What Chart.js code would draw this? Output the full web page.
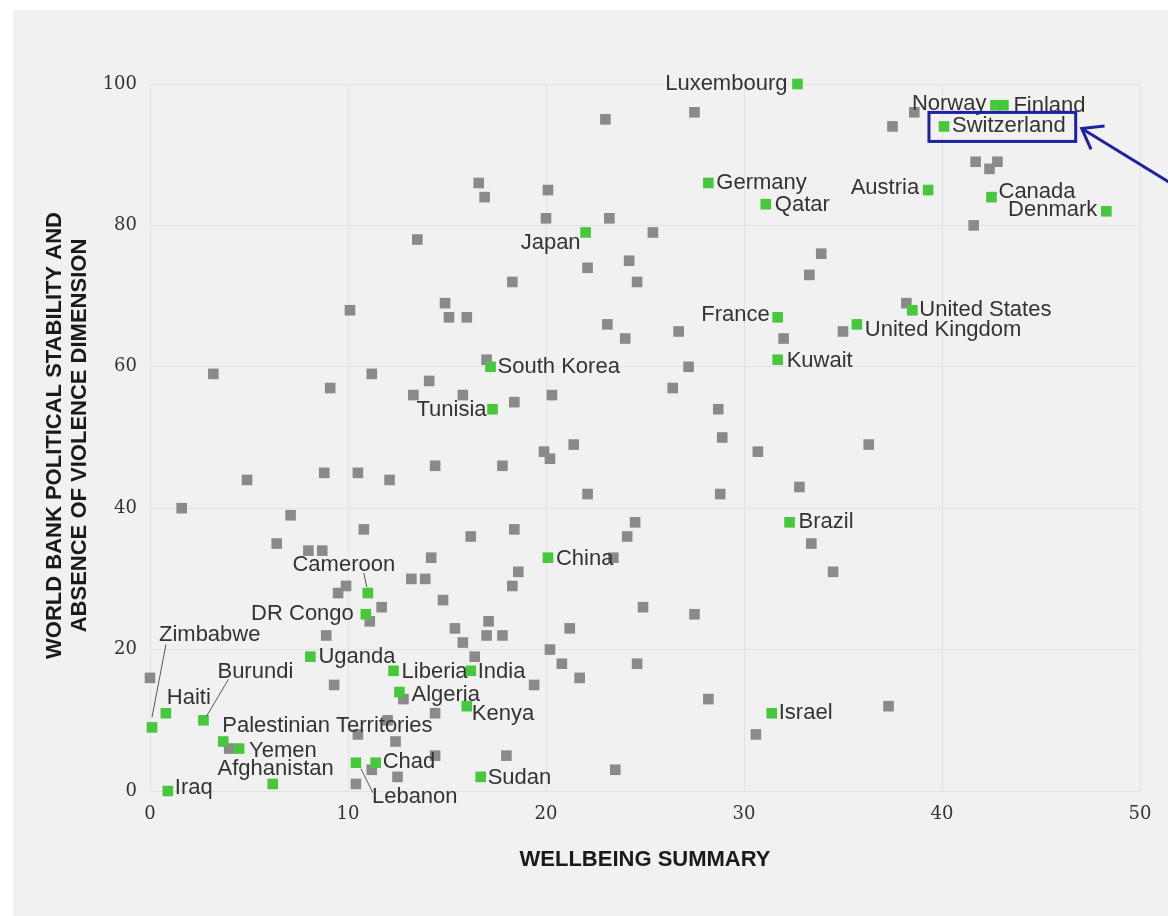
<!DOCTYPE html>
<html>
<head>
<meta charset="utf-8">
<title>Wellbeing vs political stability</title>
<script src="https://cdn.jsdelivr.net/npm/chart.js@4.4.1/dist/chart.umd.min.js"></script>
<style>
  html, body { margin: 0; padding: 0; background: #ffffff; }
  #panel { position: absolute; left: 13px; top: 10px; width: 1155px; height: 906px; background: #f1f1f1; }
  #chartBox { position: absolute; left: 0; top: 0; width: 1168px; height: 916px; }
</style>
</head>
<body>
<div id="panel"></div>
<div id="chartBox"><canvas id="myChart" width="1168" height="916"></canvas></div>
<script>
'use strict';

// axis ticks
let xTickValues = [0, 10, 20, 30, 40, 50];
let yTickValues = [0, 20, 40, 60, 80, 100];

// highlighted countries (green)
let namedCountries = ['Luxembourg', 'Norway', 'Finland', 'Switzerland', 'Germany', 'Qatar', 'Austria', 'Canada', 'Denmark',
  'Japan', 'France', 'United States', 'United Kingdom', 'Kuwait', 'South Korea', 'Tunisia', 'Brazil', 'China',
  'Cameroon', 'DR Congo', 'Zimbabwe', 'Uganda', 'Burundi', 'Haiti', 'Liberia', 'India', 'Algeria', 'Kenya',
  'Israel', 'Palestinian Territories', 'Yemen', 'Afghanistan', 'Chad', 'Lebanon', 'Sudan', 'Iraq'];
let namedWellbeing = [32.7, 42.7, 43.1, 40.1, 28.2, 31.1, 39.3, 42.5, 48.3,
  22.0, 31.7, 38.5, 35.7, 31.7, 17.2, 17.3, 32.3, 20.1,
  11.0, 10.9, 0.1, 8.1, 2.7, 0.8, 12.3, 16.2, 12.6, 16.0,
  31.4, 3.7, 4.5, 6.2, 11.4, 10.4, 16.7, 0.9];
let namedStability = [100, 97, 97, 94, 86, 83, 85, 84, 82,
  79, 67, 68, 66, 61, 60, 54, 38, 33,
  28, 25, 9, 19, 10, 11, 17, 17, 14, 12,
  11, 7, 6, 1, 4, 4, 2, 0];

// all other countries (grey)
let otherWellbeing = [27.5, 23.0, 38.6, 37.5, 41.7, 42.8, 42.4, 41.6, 33.9, 33.3,
  16.6, 16.9, 20.1, 20.0, 23.2, 25.4, 13.5, 24.2, 22.1, 24.6,
  18.3, 14.9, 15.1, 16.0, 10.1, 23.1, 24.0, 26.7, 27.2, 26.4,
  28.7, 28.9, 30.7, 28.8, 17.0, 14.1, 13.3, 15.8, 18.4, 20.3,
  21.4, 19.9, 20.2, 14.4, 17.8, 12.1, 22.1, 24.5, 24.1, 23.4,
  18.4, 16.2, 14.2, 13.2, 13.9, 18.6, 18.3, 14.8, 38.2, 35.0,
  32.0, 36.3, 32.8, 33.4, 34.5, 3.2, 11.2, 9.1, 4.9, 8.8,
  10.5, 1.6, 7.1, 10.8, 6.4, 8.0, 8.7, 9.9, 9.5, 11.1,
  11.7, 8.9, 0.0, 9.3, 4.0, 12.0, 10.5, 12.4, 11.2, 10.4,
  12.5, 15.4, 17.1, 17.0, 17.8, 15.8, 16.4, 21.2, 20.2, 20.8,
  21.7, 19.4, 24.9, 27.5, 24.6, 28.2, 30.6, 23.5, 18.0, 14.4,
  14.4, 12.8, 37.3];
let otherStability = [96, 95, 96, 94, 89, 89, 88, 80, 76, 73,
  86, 84, 85, 81, 81, 79, 78, 75, 74, 72,
  72, 69, 67, 67, 68, 66, 64, 65, 60, 57,
  54, 50, 48, 42, 61, 58, 56, 56, 55, 56,
  49, 48, 47, 46, 46, 44, 42, 38, 36, 33,
  37, 36, 33, 30, 30, 31, 29, 27, 69, 65,
  64, 49, 43, 35, 31, 59, 59, 57, 44, 45,
  45, 40, 39, 37, 35, 34, 34, 29, 28, 24,
  26, 22, 16, 15, 6, 10, 8, 7, 3, 1,
  2, 23, 24, 22, 22, 21, 19, 23, 20, 18,
  16, 15, 26, 25, 18, 13, 8, 3, 5, 5,
  11, 13, 12];

// where each name sits next to its square (pixels), plus leader lines
let labelPlacement = {
  'Luxembourg': { dx: -10, dy: 0, align: 'right' },
  'Norway': { dx: -9, dy: -1, align: 'right' },
  'Finland': { dx: 10, dy: 1, align: 'left' },
  'Switzerland': { dx: 8, dy: 0, align: 'left' },
  'Germany': { dx: 8, dy: 0, align: 'left' },
  'Qatar': { dx: 9, dy: 1, align: 'left' },
  'Austria': { dx: -9, dy: -2, align: 'right' },
  'Canada': { dx: 7, dy: -5, align: 'left' },
  'Denmark': { dx: -9, dy: -1, align: 'right' },
  'Japan': { dx: -5, dy: 10, align: 'right' },
  'France': { dx: -8, dy: -2, align: 'right' },
  'United States': { dx: 7, dy: 0, align: 'left' },
  'United Kingdom': { dx: 8, dy: 6, align: 'left' },
  'Kuwait': { dx: 9, dy: 1, align: 'left' },
  'South Korea': { dx: 7, dy: 0, align: 'left' },
  'Tunisia': { dx: -6, dy: 1, align: 'right' },
  'Brazil': { dx: 9, dy: 0, align: 'left' },
  'China': { dx: 8, dy: 1, align: 'left' },
  'Cameroon': { dx: -24, dy: -28, align: 'center', leader: [-4, -20, -1, -6] },
  'DR Congo': { dx: -12, dy: 0, align: 'right' },
  'Zimbabwe': { dx: 7, dy: -92, align: 'left', leader: [14, -83, 0, -10] },
  'Uganda': { dx: 8, dy: 0, align: 'left' },
  'Burundi': { dx: 14, dy: -48, align: 'left', leader: [25, -41, 3, -4] },
  'Haiti': { dx: 1, dy: -15, align: 'left' },
  'Liberia': { dx: 8, dy: 1, align: 'left' },
  'India': { dx: 7, dy: 1, align: 'left' },
  'Algeria': { dx: 12, dy: 3, align: 'left' },
  'Kenya': { dx: 5, dy: 8, align: 'left' },
  'Israel': { dx: 7, dy: 0, align: 'left' },
  'Palestinian Territories': { dx: -1, dy: -16, align: 'left' },
  'Yemen': { dx: 10, dy: 2, align: 'left' },
  'Afghanistan': { dx: 61, dy: -15, align: 'right' },
  'Chad': { dx: 7, dy: -1, align: 'left' },
  'Lebanon': { dx: 16, dy: 34, align: 'left', leader: [5, 6, 17, 30] },
  'Sudan': { dx: 7, dy: 1, align: 'left' },
  'Iraq': { dx: 7, dy: -3, align: 'left' }
};

let boxedCountry = 'Switzerland';

let labelFont = '22px "Liberation Sans", Arial, sans-serif';
let titleFont = 'bold 22px "Liberation Sans", Arial, sans-serif';
let navy = '#1e22a0';

function toPoints(xs, ys) {
  let output = [];
  for (let i = 0; i < xs.length; i++) {
    output.push({ x: xs[i], y: ys[i] });
  }
  return output;
}

let countryLabels = {
  id: 'countryLabels',
  afterDatasetsDraw: function (chart) {
    let ctx = chart.ctx;
    let meta = chart.getDatasetMeta(0);
    ctx.save();
    ctx.font = labelFont;
    ctx.textBaseline = 'middle';

    for (let i = 0; i < namedCountries.length; i++) {
      let name = namedCountries[i];
      let place = labelPlacement[name];
      let pt = meta.data[i];
      if (place.leader) {
        ctx.strokeStyle = '#555555';
        ctx.lineWidth = 1;
        ctx.beginPath();
        ctx.moveTo(pt.x + place.leader[0], pt.y + place.leader[1]);
        ctx.lineTo(pt.x + place.leader[2], pt.y + place.leader[3]);
        ctx.stroke();
      }
      ctx.fillStyle = '#333333';
      ctx.textAlign = place.align;
      ctx.fillText(name, pt.x + place.dx, pt.y + place.dy);

      if (name === boxedCountry) {
        let w = ctx.measureText(name).width;
        let left = pt.x - 15;
        let right = pt.x + place.dx + w + 10;
        let top = pt.y - 14;
        let bottom = pt.y + 15;
        ctx.strokeStyle = navy;
        ctx.lineWidth = 3;
        ctx.strokeRect(left, top, right - left, bottom - top);

        // arrow pointing at the box
        let tipX = right + 6;
        let tipY = pt.y + 2;
        let ang = Math.atan2(53, 86);
        ctx.beginPath();
        ctx.moveTo(tipX + Math.cos(ang) * 110, tipY + Math.sin(ang) * 110);
        ctx.lineTo(tipX, tipY);
        ctx.stroke();
        ctx.beginPath();
        ctx.moveTo(tipX + Math.cos(ang - 0.66) * 23, tipY + Math.sin(ang - 0.66) * 23);
        ctx.lineTo(tipX, tipY);
        ctx.lineTo(tipX + Math.cos(ang + 0.6) * 23, tipY + Math.sin(ang + 0.6) * 23);
        ctx.stroke();
      }
    }
    ctx.restore();
  },
  afterDraw: function (chart) {
    let ctx = chart.ctx;
    let area = chart.chartArea;
    ctx.save();
    ctx.font = titleFont;
    ctx.fillStyle = '#1a1a1a';
    ctx.textAlign = 'center';
    ctx.textBaseline = 'middle';
    ctx.fillText('WELLBEING SUMMARY', (area.left + area.right) / 2, 860);

    ctx.translate(0, (area.top + area.bottom) / 2 - 2);
    ctx.rotate(-Math.PI / 2);
    ctx.fillText('WORLD BANK POLITICAL STABILITY AND', 0, 55);
    ctx.fillText('ABSENCE OF VIOLENCE DIMENSION', 0, 80);
    ctx.restore();
  }
};

let gridColor = '#e2e2e2';
let tickFont = { family: '"DejaVu Serif", "Liberation Serif", serif', size: 18 };

let ctx = document.getElementById('myChart').getContext('2d');
let myChart = new Chart(ctx, {
  type: 'scatter',
  data: {
    datasets: [
      {
        label: 'Named countries',
        data: toPoints(namedWellbeing, namedStability),
        backgroundColor: '#46c83c',
        pointStyle: 'rect',
        pointRadius: 7.5,
        pointHoverRadius: 7.5,
        pointBorderWidth: 0,
        clip: false
      },
      {
        label: 'Other countries',
        data: toPoints(otherWellbeing, otherStability),
        backgroundColor: '#8a8a8a',
        pointStyle: 'rect',
        pointRadius: 7.5,
        pointHoverRadius: 7.5,
        pointBorderWidth: 0,
        clip: false
      }
    ]
  },
  options: {
    responsive: false,
    animation: false,
    events: [],
    layout: { padding: { left: 0, top: 84, right: 28, bottom: 0 } },
    plugins: {
      legend: { display: false },
      tooltip: { enabled: false }
    },
    scales: {
      x: {
        type: 'linear',
        min: 0,
        max: 50,
        afterBuildTicks: function (scale) {
          scale.ticks = xTickValues.map(v => ({ value: v }));
        },
        afterFit: function (scale) { scale.height = 125; },
        ticks: { color: '#333333', font: tickFont, padding: 13 },
        grid: { color: gridColor, drawTicks: false },
        border: { color: gridColor }
      },
      y: {
        type: 'linear',
        min: 0,
        max: 100,
        afterBuildTicks: function (scale) {
          scale.ticks = yTickValues.map(v => ({ value: v }));
        },
        afterFit: function (scale) { scale.width = 150; },
        ticks: { color: '#333333', font: tickFont, padding: 13 },
        grid: { color: gridColor, drawTicks: false },
        border: { color: gridColor }
      }
    }
  },
  plugins: [countryLabels]
});
</script>
</body>
</html>
